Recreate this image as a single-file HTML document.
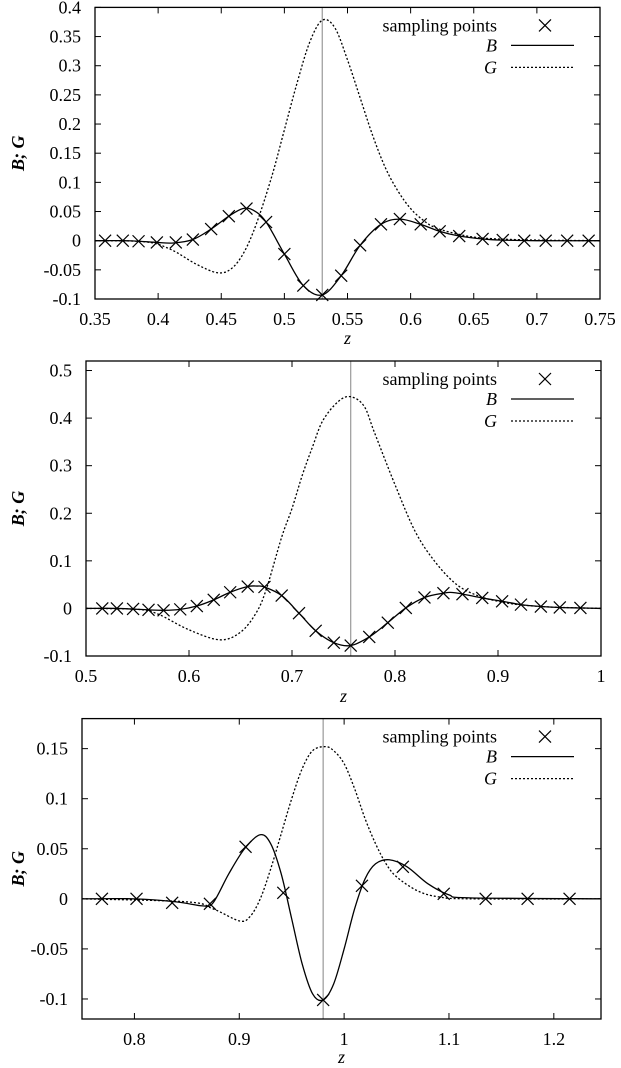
<!DOCTYPE html>
<html><head><meta charset="utf-8"><style>
html,body{margin:0;padding:0;background:#fff;}
svg{display:block;font-family:"Liberation Serif",serif;}
</style></head><body>
<svg id="fig" width="621" height="1068" viewBox="0 0 621 1068" xmlns="http://www.w3.org/2000/svg"></svg>
<script>
// ---- Panel 1 data ----
const p1XTicks=[0.35,0.4,0.45,0.5,0.55,0.6,0.65,0.7,0.75];
const p1XTickLabels=["0.35","0.4","0.45","0.5","0.55","0.6","0.65","0.7","0.75"];
const p1YTicks=[-0.1,-0.05,0,0.05,0.1,0.15,0.2,0.25,0.3,0.35,0.4];
const p1YTickLabels=["-0.1","-0.05","0","0.05","0.1","0.15","0.2","0.25","0.3","0.35","0.4"];
const p1SampleZ=[0.358,0.372,0.3845,0.399,0.414,0.4275,0.442,0.456,0.470,0.4855,0.500,0.515,0.530,0.545,0.560,0.5765,0.5915,0.608,0.623,0.6385,0.657,0.673,0.690,0.707,0.724,0.741];
const p1SampleB=[0,0,-0.001,-0.003,-0.003,0.002,0.02,0.042,0.055,0.032,-0.023,-0.077,-0.093,-0.06,-0.008,0.028,0.037,0.028,0.016,0.008,0.003,0.001,0,0,0,0];
const p1BZ=[0.35,0.372,0.3845,0.399,0.412,0.4275,0.442,0.456,0.467,0.4755,0.4855,0.500,0.515,0.530,0.545,0.560,0.5765,0.5915,0.608,0.623,0.6385,0.657,0.673,0.70,0.75];
const p1BV=[0,0,-0.001,-0.003,-0.004,0.002,0.02,0.042,0.055,0.052,0.032,-0.023,-0.077,-0.093,-0.06,-0.008,0.028,0.037,0.028,0.016,0.008,0.003,0.001,0,0];
const p1GZ=[0.35,0.39,0.41,0.43,0.447,0.458,0.468,0.478,0.49,0.50,0.51,0.52,0.53,0.54,0.55,0.56,0.57,0.58,0.59,0.60,0.61,0.62,0.64,0.66,0.70,0.75];
const p1GV=[0,-0.002,-0.015,-0.04,-0.055,-0.048,-0.02,0.03,0.11,0.19,0.27,0.34,0.378,0.365,0.31,0.245,0.18,0.125,0.085,0.055,0.035,0.022,0.01,0.004,0.001,0];
const p1Marker=[0.530];
// ---- Panel 2 data ----
const p2XTicks=[0.5,0.6,0.7,0.8,0.9,1];
const p2XTickLabels=["0.5","0.6","0.7","0.8","0.9","1"];
const p2YTicks=[-0.1,0,0.1,0.2,0.3,0.4,0.5];
const p2YTickLabels=["-0.1","0","0.1","0.2","0.3","0.4","0.5"];
const p2SampleZ=[0.5158,0.530,0.5457,0.5607,0.5753,0.5915,0.6076,0.624,0.640,0.657,0.6733,0.690,0.7068,0.723,0.7406,0.757,0.775,0.793,0.8105,0.8286,0.847,0.8655,0.8847,0.904,0.9223,0.9416,0.960,0.980];
const p2SampleB=[0,0,-0.001,-0.003,-0.004,-0.002,0.005,0.018,0.034,0.046,0.045,0.027,-0.01,-0.047,-0.072,-0.078,-0.06,-0.03,0.001,0.023,0.032,0.03,0.022,0.015,0.008,0.004,0.002,0.001];
const p2BZ=[0.5,0.53,0.5607,0.5753,0.5915,0.6076,0.624,0.640,0.657,0.666,0.6733,0.690,0.7068,0.723,0.7406,0.757,0.775,0.793,0.8105,0.8286,0.847,0.858,0.8847,0.904,0.9223,0.9416,0.960,0.98,1.0];
const p2BV=[0,0,-0.003,-0.004,-0.002,0.005,0.018,0.034,0.046,0.047,0.045,0.027,-0.01,-0.047,-0.072,-0.078,-0.06,-0.03,0.001,0.023,0.032,0.033,0.022,0.015,0.008,0.004,0.002,0.001,0];
const p2GZ=[0.5,0.55,0.57,0.6,0.63,0.65,0.665,0.675,0.69,0.70,0.71,0.72,0.73,0.745,0.757,0.77,0.78,0.80,0.82,0.84,0.86,0.88,0.90,0.92,0.95,1.0];
const p2GV=[0,-0.002,-0.012,-0.045,-0.066,-0.05,-0.01,0.04,0.15,0.21,0.28,0.34,0.395,0.435,0.445,0.425,0.37,0.26,0.16,0.095,0.05,0.027,0.015,0.008,0.003,0];
const p2Marker=[0.757];
// ---- Panel 3 data ----
const p3XTicks=[0.8,0.9,1,1.1,1.2];
const p3XTickLabels=["0.8","0.9","1","1.1","1.2"];
const p3YTicks=[-0.1,-0.05,0,0.05,0.1,0.15];
const p3YTickLabels=["-0.1","-0.05","0","0.05","0.1","0.15"];
const p3SampleZ=[0.769,0.802,0.836,0.872,0.906,0.942,0.980,1.017,1.056,1.095,1.135,1.175,1.215];
const p3SampleB=[0,0,-0.004,-0.005,0.052,0.006,-0.101,0.013,0.032,0.005,0,0,0];
const p3BZ=[0.75,0.80,0.84,0.865,0.875,0.89,0.905,0.92,0.93,0.94,0.95,0.96,0.97,0.98,0.99,1.0,1.01,1.02,1.03,1.043,1.06,1.08,1.10,1.12,1.25];
const p3BV=[0,0,-0.003,-0.007,-0.004,0.025,0.05,0.064,0.055,0.025,-0.02,-0.065,-0.095,-0.101,-0.085,-0.05,-0.01,0.02,0.035,0.039,0.032,0.015,0.004,0.001,0];
const p3GZ=[0.75,0.85,0.875,0.90,0.91,0.92,0.93,0.94,0.95,0.96,0.97,0.982,0.99,1.0,1.01,1.02,1.03,1.04,1.05,1.07,1.09,1.12,1.25];
const p3GV=[0,-0.003,-0.01,-0.022,-0.018,0,0.03,0.065,0.1,0.13,0.148,0.152,0.148,0.135,0.11,0.08,0.055,0.035,0.022,0.008,0.002,0,0];
const p3Marker=[0.98];

const NS="http://www.w3.org/2000/svg";
const svg=document.getElementById('fig');
function mk(tag,attrs,parent){const e=document.createElementNS(NS,tag);for(const k in attrs)e.setAttribute(k,attrs[k]);(parent||svg).appendChild(e);return e;}
function smooth(pts){
  let d="M"+pts[0][0].toFixed(2)+","+pts[0][1].toFixed(2);
  for(let i=0;i<pts.length-1;i++){
    const p0=pts[Math.max(0,i-1)],p1=pts[i],p2=pts[i+1],p3=pts[Math.min(pts.length-1,i+2)];
    const c1x=p1[0]+(p2[0]-p0[0])/6,c1y=p1[1]+(p2[1]-p0[1])/6;
    const c2x=p2[0]-(p3[0]-p1[0])/6,c2y=p2[1]-(p3[1]-p1[1])/6;
    d+=" C"+c1x.toFixed(2)+","+c1y.toFixed(2)+" "+c2x.toFixed(2)+","+c2y.toFixed(2)+" "+p2[0].toFixed(2)+","+p2[1].toFixed(2);
  }
  return d;
}
function panel(id,box,xd,yd,xt,xtl,yt,ytl,sz,sb,bz,bv,gz,gv,mark,zLabelY){
  const g=mk('g',{});
  
  
  const X=v=>box.l+(v-xd[0])/(xd[1]-xd[0])*(box.r-box.l);
  const Y=v=>box.b-(v-yd[0])/(yd[1]-yd[0])*(box.b-box.t);
  const clipId=id+'-clip';
  const cp=mk('clipPath',{id:clipId},g);mk('rect',{x:box.l,y:box.t,width:box.r-box.l,height:box.b-box.t},cp);
  xt.forEach((v,i)=>{const x=X(v);
    const t=mk('line',{x1:x,x2:x,y1:box.b,y2:box.b-6,stroke:'#000','stroke-width':1},g);
    
    mk('line',{x1:x,x2:x,y1:box.t,y2:box.t+6,stroke:'#000','stroke-width':1},g);
    const l=mk('text',{x:x,y:box.b+26,'font-size':18,'text-anchor':'middle'},g);l.textContent=xtl[i];
    });
  yt.forEach((v,i)=>{const y=Y(v);
    const t=mk('line',{x1:box.l,x2:box.l+6,y1:y,y2:y,stroke:'#000','stroke-width':1},g);
    
    mk('line',{x1:box.r,x2:box.r-6,y1:y,y2:y,stroke:'#000','stroke-width':1},g);
    const l=mk('text',{x:box.l-14,y:y+6,'font-size':18,'text-anchor':'end'},g);l.textContent=ytl[i];
    });
  mark.forEach(v=>{const m=mk('line',{x1:X(v),x2:X(v),y1:box.t,y2:box.b,stroke:'#999','stroke-width':1.2},g);
    });
  const pg=mk('g',{'clip-path':'url(#'+clipId+')'},g);
  const gp=mk('path',{d:smooth(gz.map((z,i)=>[X(z),Y(gv[i])])),fill:'none',stroke:'#000','stroke-width':1.3,'stroke-dasharray':'2,2'},pg);
  
  const bp=mk('path',{d:smooth(bz.map((z,i)=>[X(z),Y(bv[i])])),fill:'none',stroke:'#000','stroke-width':1.3},pg);
  
  sz.forEach((z,i)=>{const x=X(z),y=Y(sb[i]);
    const c=mk('path',{d:`M${x-6},${y-6}L${x+6},${y+6}M${x-6},${y+6}L${x+6},${y-6}`,stroke:'#000','stroke-width':1.2,fill:'none'},g);
    });
  const br=mk('rect',{x:box.l,y:box.t,width:box.r-box.l,height:box.b-box.t,fill:'none',stroke:'#000','stroke-width':1.3},g);
  
  const lg=mk('g',{},g);
  const ly=box.t+18;
  const t1=mk('text',{x:497,y:ly+6,'font-size':18,'text-anchor':'end'},lg);t1.textContent='sampling points';
  
  mk('path',{d:`M${539},${ly-6}L${551},${ly+6}M${539},${ly+6}L${551},${ly-6}`,stroke:'#000','stroke-width':1.2},lg);
  const t2=mk('text',{x:497,y:ly+26,'font-size':18,'text-anchor':'end','font-style':'italic'},lg);t2.textContent='B';
  
  mk('line',{x1:511,x2:574,y1:ly+20,y2:ly+20,stroke:'#000','stroke-width':1.3},lg);
  const t3=mk('text',{x:497,y:ly+48,'font-size':18,'text-anchor':'end','font-style':'italic'},lg);t3.textContent='G';
  
  mk('line',{x1:511,x2:574,y1:ly+42,y2:ly+42,stroke:'#000','stroke-width':1.3,'stroke-dasharray':'2,2'},lg);
  const cy=(box.t+box.b)/2;
  const yl=mk('text',{x:0,y:0,'font-size':18,'font-style':'italic','font-weight':'bold','text-anchor':'middle',transform:`translate(24,${cy}) rotate(-90)`},g);
  yl.textContent='B; G';
  const xl=mk('text',{x:(box.l+box.r)/2,y:zLabelY,'font-size':18,'font-style':'italic','text-anchor':'middle'},g);
  xl.textContent='z';
}
panel('panel-1',{l:95,r:600,t:7.4,b:299},[0.35,0.75],[-0.1,0.4],p1XTicks,p1XTickLabels,p1YTicks,p1YTickLabels,p1SampleZ,p1SampleB,p1BZ,p1BV,p1GZ,p1GV,p1Marker,344);
panel('panel-2',{l:86,r:601,t:361,b:656},[0.5,1],[-0.1,0.52],p2XTicks,p2XTickLabels,p2YTicks,p2YTickLabels,p2SampleZ,p2SampleB,p2BZ,p2BV,p2GZ,p2GV,p2Marker,702);
panel('panel-3',{l:82,r:601,t:718.6,b:1019},[0.75,1.245],[-0.12,0.18],p3XTicks,p3XTickLabels,p3YTicks,p3YTickLabels,p3SampleZ,p3SampleB,p3BZ,p3BV,p3GZ,p3GV,p3Marker,1063);
</script>
</body></html>
